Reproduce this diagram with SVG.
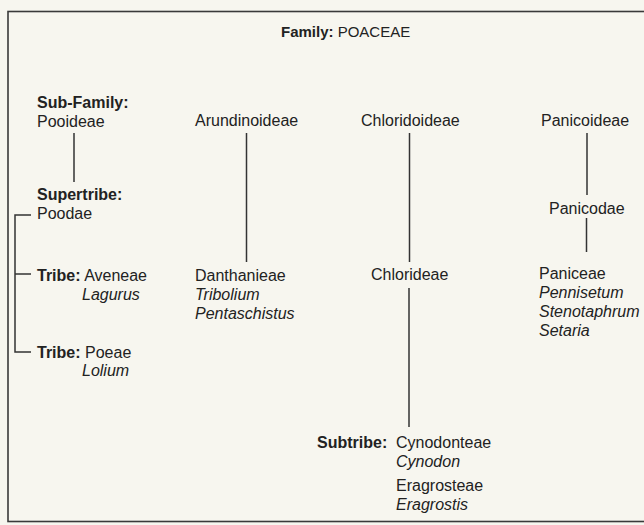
<svg xmlns="http://www.w3.org/2000/svg" width="644" height="525" viewBox="0 0 644 525">
<style>
  text { font-family: "Liberation Sans", Arial, Helvetica, sans-serif; font-size: 16px; fill: #222; }
  .b { font-weight: bold; }
  .i { font-style: italic; }
  .title { font-size: 15px; }
  .conn { stroke: #333; stroke-width: 1.5; fill: none; }
  .frame { stroke: #3a3a3a; stroke-width: 1.6; fill: none; }
</style>
<rect x="0" y="0" width="644" height="525" fill="#f7f6ef"/>
<rect class="frame" x="8" y="11.5" width="645" height="510"/>

<g id="family">
  <text class="title" x="281" y="37"><tspan class="b">Family:</tspan> POACEAE</text>
</g>

<g id="pooideae">
  <text class="b" x="37" y="108">Sub-Family:</text>
  <text x="37" y="127">Pooideae</text>
</g>
<g id="poodae">
  <text class="b" x="37" y="200">Supertribe:</text>
  <text x="37" y="219">Poodae</text>
</g>
<g id="aveneae">
  <text x="37" y="281"><tspan class="b">Tribe:</tspan> Aveneae</text>
  <text class="i" x="82" y="300">Lagurus</text>
</g>
<g id="poeae">
  <text x="37" y="358"><tspan class="b">Tribe:</tspan> Poeae</text>
  <text class="i" x="82" y="376">Lolium</text>
</g>

<g id="arundinoideae">
  <text x="195" y="126">Arundinoideae</text>
</g>
<g id="danthanieae">
  <text x="195" y="281">Danthanieae</text>
  <text class="i" x="195" y="300">Tribolium</text>
  <text class="i" x="195" y="319">Pentaschistus</text>
</g>

<g id="chloridoideae">
  <text x="361" y="126">Chloridoideae</text>
</g>
<g id="chlorideae">
  <text x="371" y="280">Chlorideae</text>
</g>
<g id="cynodonteae">
  <text class="b" x="317" y="448">Subtribe:</text>
  <text x="396" y="448">Cynodonteae</text>
  <text class="i" x="396" y="467">Cynodon</text>
</g>
<g id="eragrosteae">
  <text x="396" y="491">Eragrosteae</text>
  <text class="i" x="396" y="510">Eragrostis</text>
</g>

<g id="panicoideae">
  <text x="541" y="126">Panicoideae</text>
</g>
<g id="panicodae">
  <text x="549" y="214">Panicodae</text>
</g>
<g id="paniceae">
  <text x="539" y="279">Paniceae</text>
  <text class="i" x="539" y="298">Pennisetum</text>
  <text class="i" x="539" y="317">Stenotaphrum</text>
  <text class="i" x="539" y="336">Setaria</text>
</g>

<g id="connectors">
  <line class="conn" x1="74" y1="133" x2="74" y2="182"/>
  <path class="conn" d="M31,215 H15 V352 H31"/>
  <line class="conn" x1="15" y1="274" x2="31" y2="274"/>
  <line class="conn" x1="246.5" y1="133" x2="246.5" y2="262"/>
  <line class="conn" x1="409.5" y1="133" x2="409.5" y2="262"/>
  <line class="conn" x1="409" y1="288" x2="409" y2="427"/>
  <line class="conn" x1="587" y1="133" x2="587" y2="195"/>
  <line class="conn" x1="586.5" y1="218" x2="586.5" y2="252"/>
</g>
</svg>
